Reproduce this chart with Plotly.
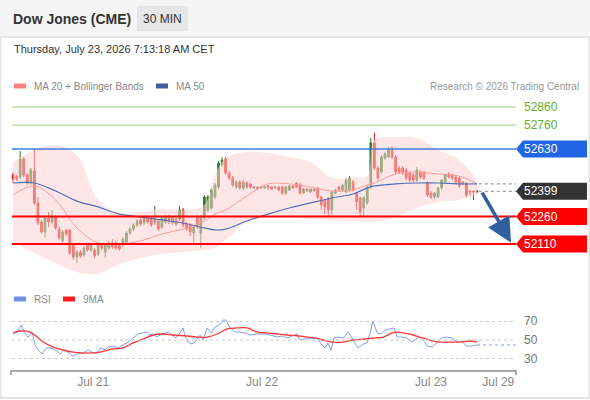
import plotly.graph_objects as go

# ---- page geometry (590x400 window) ----
W, H = 590, 400
ML, MR, MT, MB = 11, 74, 100, 30
PW = W - ML - MR
PH = H - MT - MB


def px(x):
    return (x - ML) / PW


def py(y):
    return (H - MB - y) / PH


FONT = "Liberation Sans, Arial, sans-serif"

# ---- 30 min candles ----
opens = [52488, 52477, 52477, 52575, 52488, 52444, 52510, 52335, 52231, 52176,
         52252, 52231, 52258, 52192, 52127, 52187, 52187, 52105, 52039, 52066,
         52050, 52105, 52077, 52077, 52055, 52105, 52066, 52088, 52116, 52116,
         52105, 52105, 52121, 52170, 52192, 52214, 52242, 52225, 52252, 52252,
         52225, 52236, 52203, 52231, 52258, 52225, 52247, 52247, 52296, 52220,
         52214, 52170, 52258, 52170, 52252, 52296, 52307, 52367, 52422, 52543,
         52575, 52499, 52471, 52422, 52449, 52417, 52444, 52439, 52422, 52411,
         52422, 52417, 52428, 52422, 52417, 52422, 52422, 52389, 52406, 52428,
         52444, 52433, 52389, 52411, 52395, 52400, 52417, 52367, 52351, 52362,
         52296, 52389, 52422, 52406, 52395, 52406, 52449, 52389, 52362, 52307,
         52335, 52422, 52663, 52526, 52504, 52581, 52586, 52625, 52586, 52526,
         52526, 52515, 52499, 52488, 52460, 52504, 52499, 52444, 52389, 52367,
         52367, 52417, 52449, 52493, 52488, 52477, 52471, 52439, 52444, 52400,
         52400, 52395]
closes = [52466, 52466, 52575, 52488, 52444, 52515, 52335, 52225, 52176, 52258,
          52231, 52258, 52198, 52143, 52176, 52165, 52061, 52039, 52066, 52045,
          52088, 52077, 52105, 52045, 52105, 52088, 52105, 52116, 52094, 52088,
          52083, 52137, 52170, 52192, 52214, 52236, 52220, 52258, 52231, 52214,
          52252, 52192, 52252, 52258, 52231, 52252, 52220, 52296, 52214, 52192,
          52176, 52203, 52203, 52258, 52367, 52367, 52406, 52433, 52553, 52570,
          52499, 52471, 52433, 52449, 52417, 52449, 52422, 52422, 52417, 52422,
          52417, 52422, 52417, 52411, 52422, 52406, 52389, 52422, 52428, 52417,
          52422, 52389, 52411, 52400, 52411, 52411, 52367, 52324, 52313, 52296,
          52395, 52406, 52406, 52433, 52460, 52471, 52406, 52340, 52285, 52362,
          52422, 52663, 52526, 52471, 52586, 52603, 52625, 52586, 52504, 52504,
          52499, 52471, 52460, 52460, 52515, 52477, 52471, 52378, 52367, 52389,
          52417, 52460, 52488, 52477, 52471, 52449, 52428, 52449, 52378, 52395,
          52395, 52400]
highs = [52504, 52488, 52619, 52586, 52499, 52526, 52630, 52367, 52242, 52269,
         52285, 52296, 52269, 52203, 52187, 52192, 52192, 52116, 52077, 52077,
         52099, 52116, 52116, 52088, 52116, 52116, 52116, 52127, 52137, 52127,
         52116, 52148, 52181, 52203, 52225, 52247, 52252, 52269, 52263, 52263,
         52318, 52247, 52263, 52269, 52269, 52263, 52258, 52318, 52307, 52231,
         52225, 52214, 52269, 52269, 52378, 52378, 52417, 52444, 52564, 52586,
         52586, 52510, 52482, 52460, 52460, 52460, 52455, 52444, 52428, 52428,
         52428, 52428, 52433, 52428, 52428, 52428, 52428, 52428, 52433, 52433,
         52449, 52444, 52417, 52417, 52417, 52417, 52422, 52373, 52356, 52367,
         52400, 52411, 52428, 52439, 52471, 52482, 52460, 52395, 52367, 52373,
         52433, 52690, 52718, 52537, 52597, 52614, 52641, 52647, 52597, 52537,
         52537, 52526, 52510, 52499, 52532, 52515, 52510, 52455, 52400, 52395,
         52422, 52466, 52493, 52504, 52493, 52482, 52477, 52455, 52449, 52406,
         52406, 52406]
lows = [52444, 52455, 52466, 52477, 52433, 52433, 52324, 52214, 52165, 52143,
        52203, 52220, 52187, 52132, 52116, 52154, 52050, 52023, 52006, 52034,
        52039, 52066, 52066, 52034, 52045, 52077, 52034, 52077, 52083, 52077,
        52072, 52094, 52110, 52159, 52181, 52203, 52209, 52214, 52220, 52203,
        52214, 52181, 52192, 52220, 52220, 52214, 52209, 52236, 52203, 52181,
        52154, 52116, 52192, 52088, 52242, 52285, 52296, 52356, 52411, 52532,
        52488, 52460, 52422, 52411, 52406, 52406, 52411, 52411, 52411, 52406,
        52411, 52411, 52406, 52406, 52411, 52400, 52378, 52378, 52400, 52411,
        52417, 52378, 52384, 52395, 52389, 52395, 52356, 52296, 52274, 52263,
        52269, 52384, 52400, 52395, 52389, 52395, 52395, 52296, 52258, 52258,
        52324, 52411, 52515, 52460, 52493, 52570, 52581, 52575, 52493, 52493,
        52488, 52460, 52449, 52449, 52449, 52466, 52460, 52367, 52356, 52356,
        52362, 52406, 52439, 52471, 52460, 52439, 52417, 52433, 52367, 52373,
        52351, 52389]
bars = list(range(len(closes)))

# ---- moving averages and Bollinger bands ----
band_idx = [0, 6, 12, 18, 24, 30, 36, 42, 48, 54, 57, 60, 66, 72, 78, 84, 90, 96,
            100, 102, 108, 114, 120, 126, 131]
bb_upper = [52559, 52625, 52652, 52597, 52351, 52280, 52285, 52302, 52296, 52324,
            52488, 52581, 52614, 52608, 52586, 52559, 52471, 52477, 52482, 52679,
            52696, 52690, 52625, 52570, 52460]
bb_lower = [52121, 52061, 52006, 51957, 51946, 52001, 52034, 52055, 52066, 52077,
            52088, 52132, 52231, 52269, 52258, 52247, 52242, 52236, 52231, 52231,
            52258, 52307, 52340, 52351, 52378]
ma20 = [52378, 52428, 52351, 52198, 52116, 52110, 52127, 52165, 52192, 52236,
        52274, 52296, 52373, 52439, 52439, 52422, 52400, 52406, 52433, 52444,
        52493, 52504, 52493, 52482, 52439]
ma50 = [52444, 52444, 52400, 52345, 52313, 52274, 52258, 52242, 52225, 52198,
        52187, 52192, 52236, 52274, 52307, 52335, 52362, 52384, 52417, 52428,
        52439, 52444, 52444, 52439, 52439]

# ---- RSI panel ----
rsi_idx = [0, 1.1, 2.3, 3.1, 4.2, 5.4, 6.2, 7.1, 8.2, 9.3, 10.4, 11.3, 12.4, 13.3,
           14.4, 15.5, 16.7, 17.5, 18.6, 19.8, 21.2, 22.6, 23.7, 24.6, 26, 26.8,
           28.2, 29.6, 31, 32.5, 33.9, 35.3, 36.7, 37.8, 38.7, 39.5, 40.7, 41.5,
           42.3, 43.8, 44.9, 46, 47.1, 48, 48.6, 49.4, 50.5, 51.4, 52.8, 53.6,
           54.8, 55.9, 57, 58.2, 59.3, 60.1, 61.3, 62.7, 64.1, 65.5, 66.9, 68.9,
           70.6, 72.6, 74.5, 75.9, 77.4, 78.8, 80.2, 80.7, 81.6, 83, 84.4, 85.8,
           87.2, 88.1, 88.9, 89.8, 90.6, 91.8, 93.2, 94.6, 96, 97.4, 98.8, 99.9,
           100.8, 101.6, 102.8, 103.9, 105, 106.4, 107.6, 108.4, 109.8, 111.2,
           112.6, 114.1, 115.5, 116.9, 118.3, 119.7, 121.1, 122.5, 123.9, 125.4,
           126.8, 127.9, 129.6, 131]
rsi = [56.5, 58.6, 66.2, 58.6, 53.2, 57.6, 44.6, 39.2, 34.9, 41.4, 41.4, 40.5, 38.1,
       34.9, 39.2, 37, 32.7, 33.8, 35.9, 35.9, 39.2, 35.9, 35.9, 41.4, 39.2, 42.4,
       43.5, 41.4, 44.6, 47.8, 52.2, 56.5, 57.6, 58.6, 55.4, 56.5, 53.2, 55.4,
       56.5, 58.6, 55.4, 52.2, 57.6, 63, 53.2, 47.8, 45.7, 47.8, 55.4, 50, 63,
       57.6, 64, 66.2, 71.6, 71.6, 63, 58.6, 58.6, 57.6, 55.4, 56.5, 56.5, 55.4,
       53.2, 54.3, 52.2, 54.3, 56.5, 51.1, 50, 52.2, 51.1, 52.2, 44.6, 41.4,
       46.8, 39.2, 52.2, 53.2, 52.2, 58.6, 50, 41.4, 45.7, 46.8, 57.6, 70.5,
       57.6, 56.5, 60.8, 61.9, 63, 53.2, 53.2, 52.2, 47.8, 52.2, 52.2, 43.5,
       42.4, 46.8, 52.2, 53.2, 52.2, 47.8, 48.9, 43.5, 43.5, 44.6]
ma9_idx = [0, 2, 4.8, 6.8, 8.5, 11.3, 14.1, 16.9, 20.9, 24.6, 28.2, 31, 33.9, 36.7,
           39.5, 42.3, 45.2, 49.1, 51.9, 54.8, 57.6, 60.4, 63.2, 66.1, 68.9, 71.7,
           74.5, 77.4, 80.7, 85.3, 87.5, 90.1, 93.2, 96, 99.4, 102.2, 104.5, 107,
           108.4, 110.1, 112.9, 115.8, 118.6, 120.6, 123.4, 126.2, 129, 131]
rsi_ma9 = [57.6, 59.7, 58.6, 53.2, 47.8, 42.4, 39.2, 37, 35.9, 37, 40.3, 41.4, 46.8,
           51.1, 55.4, 56.5, 55.4, 54.3, 53.2, 53.2, 56.5, 61.9, 63, 63, 58.6,
           57.6, 56.5, 55.4, 54.3, 52.2, 50, 47.8, 47.8, 50, 51.1, 52.2, 53.2,
           57.6, 58.6, 57.6, 55.4, 52.2, 48.9, 47.8, 47.8, 47.8, 48.9, 47.8]
rsi_levels = [30, 50, 70]

# ---- key levels ----
resist_green = [52860, 52760]
pivot = 52630
last_price = 52399
supports = [52260, 52110]

tick_pos = [22.6, 70.3, 118, 137]
tick_text = ["Jul 21", "Jul 22", "Jul 23", "Jul 29"]

X_END = 142

fig = go.Figure()

# bollinger band fill
fig.add_trace(go.Scatter(x=band_idx, y=bb_lower, mode="lines", line=dict(width=0, shape="spline"),
                         hoverinfo="skip", showlegend=False, xaxis="x", yaxis="y"))
fig.add_trace(go.Scatter(x=band_idx, y=bb_upper, mode="lines", line=dict(width=0, shape="spline"),
                         fill="tonexty", fillcolor="rgba(255,210,210,0.55)",
                         hoverinfo="skip", showlegend=False, xaxis="x", yaxis="y"))
fig.add_trace(go.Scatter(x=band_idx, y=ma20, mode="lines",
                         line=dict(color="#ff9a9a", width=1, shape="spline"),
                         showlegend=False, xaxis="x", yaxis="y"))
fig.add_trace(go.Scatter(x=band_idx, y=ma50, mode="lines",
                         line=dict(color="#4a72b8", width=1.2, shape="spline"),
                         showlegend=False, xaxis="x", yaxis="y"))

fig.add_trace(go.Candlestick(
    x=bars, open=opens, high=highs, low=lows, close=closes,
    increasing=dict(line=dict(color="#2a7d2a", width=1), fillcolor="#2a7d2a"),
    decreasing=dict(line=dict(color="#e81010", width=1), fillcolor="#e81010"),
    whiskerwidth=0, showlegend=False, xaxis="x", yaxis="y"))

# RSI panel
fig.add_trace(go.Scatter(x=rsi_idx, y=rsi, mode="lines", line=dict(color="#7f9ff0", width=1),
                         showlegend=False, xaxis="x2", yaxis="y2"))
fig.add_trace(go.Scatter(x=ma9_idx, y=rsi_ma9, mode="lines",
                         line=dict(color="#ff3838", width=1.3, shape="spline"),
                         showlegend=False, xaxis="x2", yaxis="y2"))
fig.add_trace(go.Scatter(x=[rsi_idx[-1], X_END], y=[rsi[-1], rsi[-1]], mode="lines",
                         line=dict(color="#7f9ff0", width=1.2, dash="dot"),
                         showlegend=False, xaxis="x2", yaxis="y2"))

shapes = []
annotations = []

# header bar and frame
shapes.append(dict(type="rect", xref="paper", yref="paper", x0=px(0), x1=px(590), y0=py(37), y1=py(0),
                   fillcolor="#f5f5f5", line=dict(width=0), layer="below"))
shapes.append(dict(type="rect", xref="paper", yref="paper", x0=px(137), x1=px(188), y0=py(31), y1=py(6),
                   fillcolor="#e6e6e6", line=dict(width=0), layer="below"))
shapes.append(dict(type="rect", xref="paper", yref="paper", x0=px(0.5), x1=px(589.5), y0=py(398), y1=py(37),
                   fillcolor="rgba(0,0,0,0)", line=dict(color="#e6e6e6", width=2), layer="below"))

annotations.append(dict(xref="paper", yref="paper", x=px(11), y=py(19), xanchor="left", yanchor="middle",
                        text="<b>Dow Jones (CME)</b>", showarrow=False,
                        font=dict(family=FONT, size=14, color="#333333")))
annotations.append(dict(xref="paper", yref="paper", x=px(162.5), y=py(19), xanchor="center", yanchor="middle",
                        text="30 MIN", showarrow=False, font=dict(family=FONT, size=12, color="#333333")))
annotations.append(dict(xref="paper", yref="paper", x=px(12), y=py(49), xanchor="left", yanchor="middle",
                        text="Thursday, July 23, 2026 7:13:18 AM CET", showarrow=False,
                        font=dict(family=FONT, size=11, color="#333333")))

# legends
def legend_item(x, y, color, label):
    shapes.append(dict(type="rect", xref="paper", yref="paper", x0=px(x), x1=px(x + 12),
                       y0=py(y + 2.5), y1=py(y - 2.5), fillcolor=color, line=dict(width=0)))
    annotations.append(dict(xref="paper", yref="paper", x=px(x + 18), y=py(y), xanchor="left",
                            yanchor="middle", text=label, showarrow=False,
                            font=dict(family=FONT, size=10, color="#8a8a8a")))


legend_item(14, 86, "#ff8080", "MA 20 + Bollinger Bands")
legend_item(156, 86, "#3c5fa0", "MA 50")
legend_item(14, 299, "#6f8fe8", "RSI")
legend_item(63, 299, "#ff1a1a", "9MA")
annotations.append(dict(xref="paper", yref="paper", x=px(581), y=py(86), xanchor="right", yanchor="middle",
                        text="Research © 2026 Trading Central", showarrow=False,
                        font=dict(family=FONT, size=10, color="#9a9a9a")))

# level lines and labels
for lv in resist_green:
    shapes.append(dict(type="line", xref="paper", yref="y", x0=px(12), x1=px(516), y0=lv, y1=lv,
                       line=dict(color="#bfe0a8", width=1.3)))
    annotations.append(dict(xref="paper", yref="y", x=px(522), y=lv, xanchor="left", yanchor="middle",
                            text=str(lv), showarrow=False, font=dict(family=FONT, size=12, color="#6aad2a")))


def tag(level, color):
    shapes.append(dict(type="path", xref="paper", yref="y", xsizemode="pixel", ysizemode="pixel",
                       xanchor=px(516), yanchor=level,
                       path="M0,0 L7,8.5 L71,8.5 L71,-8.5 L7,-8.5 Z",
                       fillcolor=color, line=dict(width=0)))
    annotations.append(dict(xref="paper", yref="y", x=px(522), y=level, xanchor="left", yanchor="middle",
                            text=str(level), showarrow=False, font=dict(family=FONT, size=12, color="white")))


shapes.append(dict(type="line", xref="paper", yref="y", x0=px(12), x1=px(516), y0=pivot, y1=pivot,
                   line=dict(color="#3d7be0", width=1.5)))
tag(pivot, "#1f66e5")
for lv in supports:
    shapes.append(dict(type="line", xref="paper", yref="y", x0=px(12), x1=px(516), y0=lv, y1=lv,
                       line=dict(color="#ff0000", width=2)))
    tag(lv, "#ff0000")

# dotted extensions from last bar
shapes.append(dict(type="line", xref="x", yref="y", x0=bars[-1] + 0.5, x1=X_END, y0=last_price, y1=last_price,
                   line=dict(color="#888888", width=1.2, dash="dot")))
shapes.append(dict(type="line", xref="x", yref="y", x0=band_idx[-1] + 0.5, x1=X_END, y0=ma50[-1], y1=ma50[-1],
                   line=dict(color="#999999", width=1.2, dash="dot")))
tag(last_price, "#333333")

# forecast arrow
annotations.append(dict(xref="x", yref="y", axref="x", ayref="y",
                        x=bars[-1] + 9.6, y=supports[1] + 8, ax=bars[-1] + 1.2, ay=last_price,
                        showarrow=True, arrowhead=2, arrowsize=1.4, arrowwidth=3.5, arrowcolor="#2e5f9f",
                        text=""))

# RSI grid
for lv in rsi_levels:
    shapes.append(dict(type="line", xref="paper", yref="y2", x0=px(12), x1=px(516), y0=lv, y1=lv,
                       line=dict(color="#c8c8c8", width=1, dash="dot")))
    annotations.append(dict(xref="paper", yref="y2", x=px(522), y=lv, xanchor="left", yanchor="middle",
                            text=str(lv), showarrow=False, font=dict(family=FONT, size=12, color="#777777")))

# bottom axis end ticks
for xe in (11, 516):
    shapes.append(dict(type="line", xref="paper", yref="paper", x0=px(xe), x1=px(xe), y0=py(370), y1=py(375),
                       line=dict(color="#aaaaaa", width=2)))

fig.update_layout(
    width=W, height=H,
    margin=dict(l=ML, r=MR, t=MT, b=MB),
    paper_bgcolor="white", plot_bgcolor="rgba(0,0,0,0)",
    showlegend=False,
    font=dict(family=FONT),
    xaxis=dict(domain=[0, 1], range=[-0.6, X_END], anchor="y", showticklabels=False, showgrid=False,
               zeroline=False, rangeslider=dict(visible=False), fixedrange=True),
    yaxis=dict(domain=[py(275), py(100)], range=[51940.5, 52898.3], visible=False, fixedrange=True),
    xaxis2=dict(domain=[0, 1], range=[-0.6, X_END], anchor="y2", matches="x", showgrid=False,
                zeroline=False, showline=True, linecolor="#aaaaaa", linewidth=2,
                tickvals=tick_pos, ticktext=tick_text, ticks="",
                tickfont=dict(family=FONT, size=12, color="#888888")),
    yaxis2=dict(domain=[0, py(310)], range=[17.6, 82.4], visible=False, fixedrange=True),
    shapes=shapes,
    annotations=annotations,
)

# the page body has a default 8px margin; drop it so the figure sits at the window corner
fig.write_html("out.html", config={"displayModeBar": False},
               post_script="document.body.style.margin='0';")
